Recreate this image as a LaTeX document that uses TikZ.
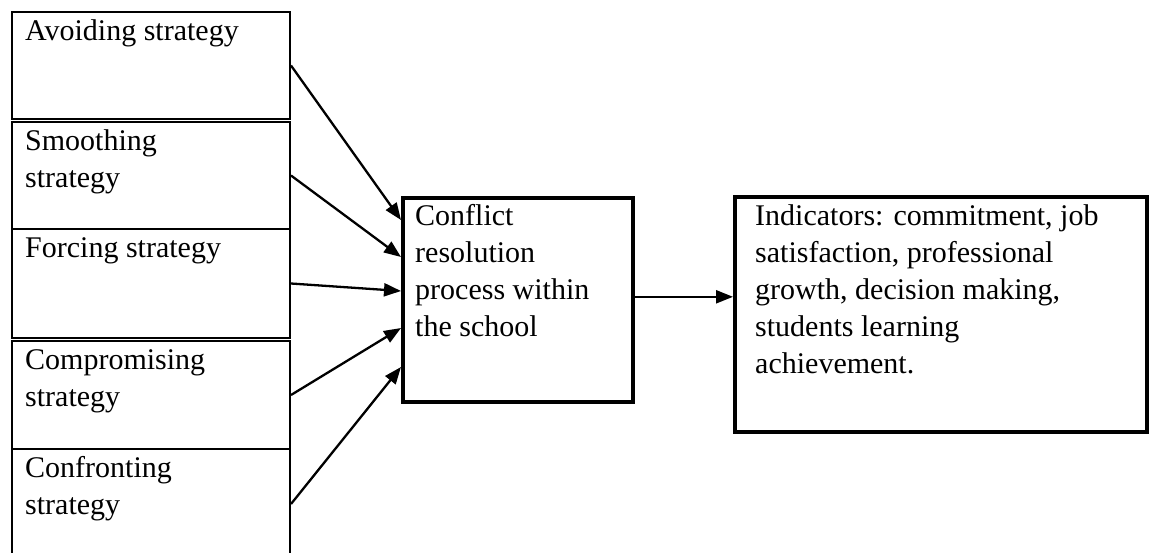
\documentclass[tikz,border=0pt]{standalone}
\usepackage{fontspec}
\setmainfont{Liberation Serif}
\usetikzlibrary{arrows.meta}

% lines of a box, first baseline on the node's base
\newcommand{\boxlines}[1]{\parbox[t]{16cm}{\raggedright #1}}

\begin{document}
\begin{tikzpicture}[x=1pt,y=-1pt,
        strat/.style={draw,line width=2pt,minimum width=278pt,anchor=north west,inner sep=0pt},
        stage/.style={draw,line width=3.6pt,anchor=north west,inner sep=0pt},
        txt/.style={anchor=base west,inner sep=0pt,font=\fontsize{30}{37}\selectfont},
        feed/.style={-{Triangle[length=17pt,width=13pt]},line width=2.3pt}]
      \useasboundingbox (0,0) rectangle (1150,552);
      % strategy column
      \node[strat,minimum height=107pt] (avoid) at (11,11) {};
      \node[strat,minimum height=107pt] (smooth) at (11,121) {};
      \node[strat,minimum height=109pt] (force) at (11,228) {};
      \node[strat,minimum height=108pt] (compro) at (11,340) {};
      \node[strat,minimum height=110pt] (confront) at (11,448) {};
      \node[txt] (avoid-t) at ([xshift=14pt,yshift=-29pt]avoid.north west) {\boxlines{Avoiding strategy}};
      \node[txt] (smooth-t) at ([xshift=14pt,yshift=-29pt]smooth.north west) {\boxlines{Smoothing\\strategy}};
      \node[txt] (force-t) at ([xshift=14pt,yshift=-29pt]force.north west) {\boxlines{Forcing strategy}};
      \node[txt] (compro-t) at ([xshift=14pt,yshift=-29pt]compro.north west) {\boxlines{Compromising\\strategy}};
      \node[txt] (confront-t) at ([xshift=14pt,yshift=-29pt]confront.north west) {\boxlines{Confronting\\strategy}};
      % process and outcome
      \node[stage,minimum width=230pt,minimum height=204pt] (conflict) at (401,196) {};
      \node[txt] (conflict-t) at ([xshift=14pt,yshift=-29pt]conflict.north west)
        {\boxlines{Conflict\\resolution\\process within\\the school}};
      \node[stage,minimum width=412pt,minimum height=235pt] (indic) at (733,195) {};
      \node[txt] (indic-t) at ([xshift=22pt,yshift=-30pt]indic.north west)
        {\boxlines{Indicators: commitment, job\\satisfaction, professional\\growth, decision making,\\students learning\\achievement.}};
      % arrows into the process box
      \coordinate (in1) at ([yshift=-24pt]conflict.north west);
      \coordinate (in2) at ([yshift=-61pt]conflict.north west);
      \coordinate (in3) at ([yshift=-95pt]conflict.north west);
      \coordinate (in4) at ([yshift=-132pt]conflict.north west);
      \coordinate (in5) at ([yshift=-171pt]conflict.north west);
      \draw[feed] (avoid.east) -- (in1);
      \draw[feed] (smooth.east) -- (in2);
      \draw[feed] (force.east) -- (in3);
      \draw[feed] (compro.east) -- (in4);
      \draw[feed] (confront.east) -- (in5);
      \draw[feed] ([yshift=3pt]conflict.east) -- ([yshift=3pt]conflict.east -| indic.west);
    \end{tikzpicture}
\end{document}
